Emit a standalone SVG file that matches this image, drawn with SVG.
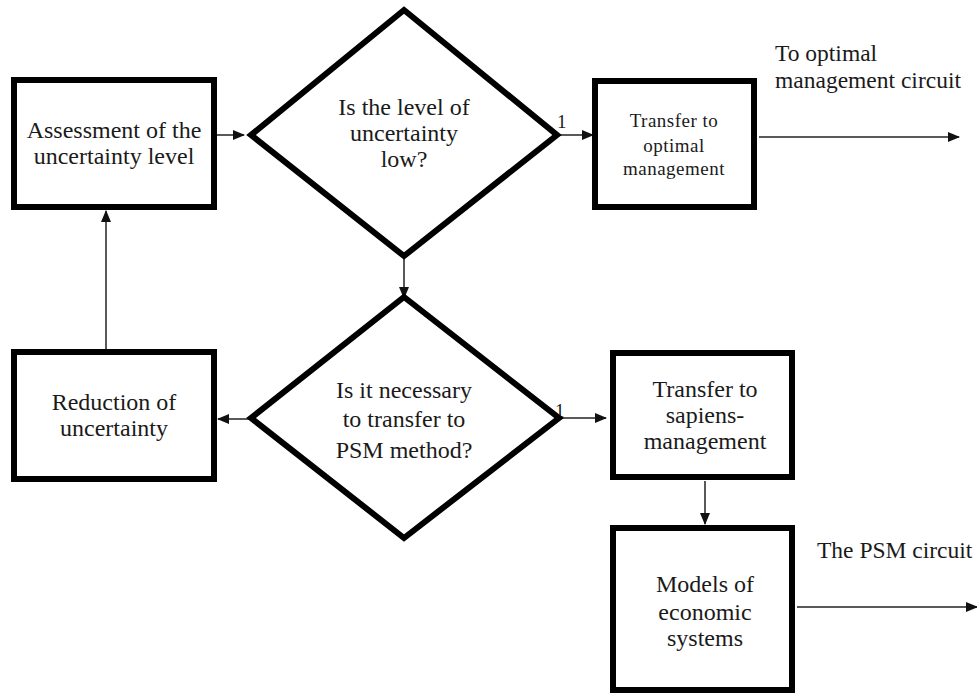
<svg xmlns="http://www.w3.org/2000/svg" width="977" height="698" viewBox="0 0 977 698">
<defs>
<marker id="ah" markerWidth="12" markerHeight="10" refX="11" refY="5" orient="auto" markerUnits="userSpaceOnUse">
<path d="M0,0 L12,5 L0,10 Z" fill="#111"/>
</marker>
<style>
.box{fill:#fff;stroke:#000;stroke-width:6}
text{font-family:'Liberation Serif','DejaVu Serif',serif;fill:#1a1a1a}
.t{font-size:24px;text-anchor:middle}
.s{font-size:19px;text-anchor:middle;letter-spacing:0.5px}
.l{font-size:23.5px}
.n{font-size:19px}
.c{fill:none;stroke:#222;stroke-width:1.5}
</style>
</defs>
<rect width="977" height="698" fill="#fff"/>
<g id="connectors">
<line class="c" x1="217" y1="135" x2="244" y2="135" marker-end="url(#ah)"/>
<line class="c" x1="560" y1="135" x2="593" y2="135" marker-end="url(#ah)"/>
<line class="c" x1="759" y1="137" x2="959" y2="137" marker-end="url(#ah)"/>
<line class="c" x1="404" y1="257" x2="404" y2="298" marker-end="url(#ah)"/>
<line class="c" x1="106" y1="349" x2="106" y2="211" marker-end="url(#ah)"/>
<line class="c" x1="249" y1="419" x2="218" y2="419" marker-end="url(#ah)"/>
<line class="c" x1="562" y1="418" x2="606" y2="418" marker-end="url(#ah)"/>
<line class="c" x1="705" y1="481" x2="705" y2="524" marker-end="url(#ah)"/>
<line class="c" x1="797" y1="607" x2="977" y2="607" marker-end="url(#ah)"/>
<text class="n" x="557" y="128">1</text>
<text class="n" x="555" y="417" font-size="16">1</text>
<text class="l" x="775" y="61">To optimal</text>
<text class="l" x="775" y="88">management circuit</text>
<text class="l" x="817" y="558">The PSM circuit</text>
</g>
<g id="assessment">
<rect class="box" x="14" y="80" width="200" height="127"/>
<text class="t" x="114" y="138">Assessment of the</text>
<text class="t" x="114" y="164">uncertainty level</text>
</g>
<g id="decision-low">
<polygon class="box" points="404,10 557,135 404,256 251,135"/>
<text class="t" x="404" y="115">Is the level of</text>
<text class="t" x="404" y="141">uncertainty</text>
<text class="t" x="404" y="167">low?</text>
</g>
<g id="transfer-optimal">
<rect class="box" x="595" y="81" width="159" height="126"/>
<text class="s" x="674" y="127">Transfer to</text>
<text class="s" x="674" y="152">optimal</text>
<text class="s" x="674" y="175">management</text>
</g>
<g id="reduction">
<rect class="box" x="14" y="352" width="200" height="127"/>
<text class="t" x="114" y="410">Reduction of</text>
<text class="t" x="114" y="436">uncertainty</text>
</g>
<g id="decision-psm">
<polygon class="box" points="404,297 559,418 404,538 251,418"/>
<text class="t" x="404" y="398">Is it necessary</text>
<text class="t" x="404" y="427">to transfer to</text>
<text class="t" x="404" y="458">PSM method?</text>
</g>
<g id="transfer-sapiens">
<rect class="box" x="613" y="353" width="179" height="124"/>
<text class="t" x="705" y="397">Transfer to</text>
<text class="t" x="705" y="423">sapiens-</text>
<text class="t" x="705" y="449">management</text>
</g>
<g id="models">
<rect class="box" x="613" y="528" width="179" height="162"/>
<text class="t" x="705" y="592">Models of</text>
<text class="t" x="705" y="620">economic</text>
<text class="t" x="705" y="646">systems</text>
</g>
</svg>
